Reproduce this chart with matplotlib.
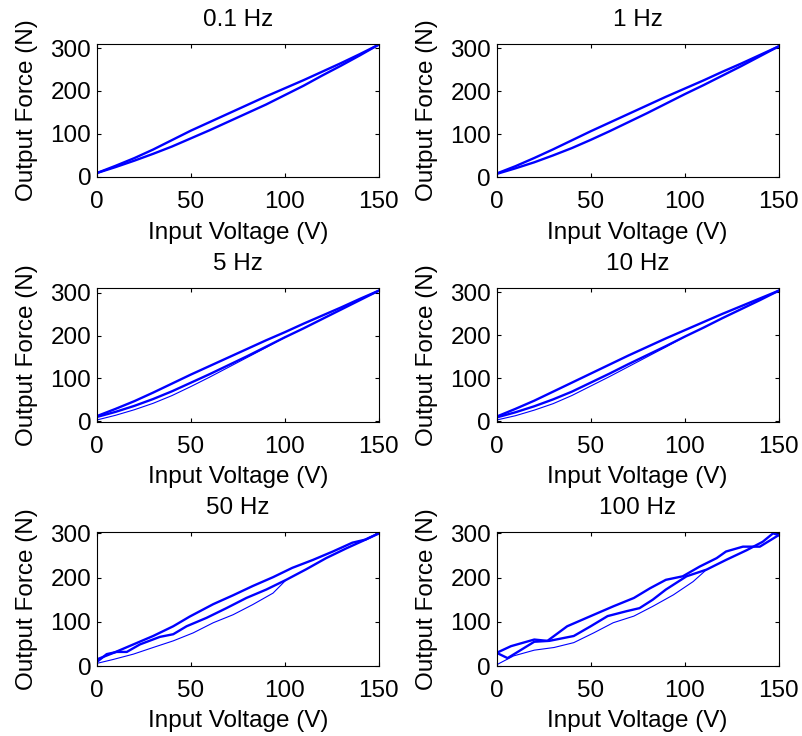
import numpy as np
import matplotlib.pyplot as plt

plt.rcParams['font.family'] = ['Liberation Sans', 'DejaVu Sans']

titles = ['0.1 Hz', '1 Hz', '5 Hz', '10 Hz', '50 Hz', '100 Hz']

# --- 0.1 Hz ---
v_01 = [0, 10, 20, 30, 40, 50, 60, 70, 80, 90, 100, 110, 120, 130, 140, 150]
up_01 = [8, 25, 43, 63, 85, 107, 127, 147, 167, 187, 206, 225, 245, 265, 286, 308]
lo_01 = [8, 22, 37, 53, 70, 89, 108, 128, 148, 168, 190, 212, 236, 259, 283, 308]

# --- 1 Hz ---
v_1 = [0, 10, 20, 30, 40, 50, 60, 70, 80, 90, 100, 110, 120, 130, 140, 150]
up_1 = [9, 26, 45, 65, 86, 107, 127, 147, 167, 187, 206, 225, 245, 264, 284, 304]
lo_1 = [8, 21, 35, 51, 68, 87, 107, 128, 149, 171, 193, 214, 236, 258, 281, 304]

# --- 5 Hz ---
v_5 = [0, 10, 20, 30, 40, 50, 60, 70, 80, 90, 100, 110, 120, 130, 140, 150]
up_5 = [12, 29, 47, 67, 88, 109, 129, 149, 169, 189, 208, 228, 247, 266, 286, 305]
lo_5 = [10, 22, 36, 52, 70, 90, 110, 131, 152, 174, 196, 217, 239, 261, 283, 305]
v_5_first = [0, 10, 20, 30, 40, 50, 60, 70, 80, 90, 100]
first_5 = [3, 14, 27, 42, 60, 81, 103, 126, 149, 172, 196]

# --- 10 Hz ---
v_10 = [0, 10, 20, 30, 40, 50, 60, 70, 80, 90, 100, 110, 120, 130, 140, 150]
up_10 = [11, 29, 48, 69, 90, 111, 132, 153, 173, 193, 212, 231, 250, 268, 286, 304]
lo_10 = [9, 21, 35, 51, 69, 90, 111, 133, 154, 175, 197, 218, 240, 261, 282, 304]
v_10_first = [0, 10, 20, 30, 40, 50, 60, 70, 80, 90, 100]
first_10 = [3, 13, 26, 41, 60, 82, 104, 127, 150, 173, 197]

# --- 50 Hz ---
v_50_up = [0, 9, 19.5, 30, 40.7, 49.5, 62, 72.5, 83, 93.8, 104, 115, 125.6, 136, 143, 150]
up_50 = [15, 30, 49, 68, 90, 112, 140, 160, 181, 201, 222, 240, 259, 279, 286, 300]
v_50_lo = [0, 5.3, 10.6, 16, 23, 33.6, 40.7, 47.8, 58.4, 69, 79.6, 90.2, 100.8, 111.5, 122, 132.7, 141.5, 150]
lo_50 = [9, 27, 32, 32, 49, 66, 72, 90, 109, 131, 154, 173, 195, 219, 244, 266, 283, 300]
v_50_first = [0, 8.8, 19.5, 30, 40.7, 51.3, 62, 72.5, 83, 93.8, 100.8]
first_50 = [6, 15, 27, 42, 57, 75, 98, 116, 139, 165, 195]

# --- 100 Hz ---
v_100_up = [0, 7.6, 20, 27, 37.5, 50, 62, 73, 81.6, 90, 99, 108, 117, 122, 131, 140, 150]
up_100 = [30, 45, 60, 57, 90, 113, 135, 154, 176, 195, 203, 225, 244, 259, 270, 270, 296]
v_100_lo = [0, 5.8, 20, 28, 41, 50, 59, 69, 76, 83, 90, 101, 111.6, 122, 133, 141.5, 147, 150]
lo_100 = [30, 18, 55, 57, 68, 90, 113, 124, 131, 150, 173, 203, 218, 240, 262, 281, 300, 296]
v_100_first = [0, 9, 20, 30.5, 41, 51.6, 62, 73, 83, 94, 104.5, 111.6]
first_100 = [3, 23, 36, 42, 53, 75, 98, 113, 135, 161, 191, 218]

panels = [
    (v_01, up_01, v_01, lo_01, None, None),
    (v_1, up_1, v_1, lo_1, None, None),
    (v_5, up_5, v_5, lo_5, v_5_first, first_5),
    (v_10, up_10, v_10, lo_10, v_10_first, first_10),
    (v_50_up, up_50, v_50_lo, lo_50, v_50_first, first_50),
    (v_100_up, up_100, v_100_lo, lo_100, v_100_first, first_100),
]
ylims = [(-2, 310), (5, 310), (-1, 311), (-1, 310), (3, 302), (4, 302)]

fig = plt.figure(figsize=(8.02, 7.36), dpi=100)
lefts = [0.1206, 0.6193]
bottoms = [0.759, 0.427, 0.095]
w, h = 0.3516, 0.1815
fs = 17.5

for i, (vu, fu, vl, fl, vf, ff) in enumerate(panels):
    ax = fig.add_axes([lefts[i % 2], bottoms[i // 2], w, h])
    if vf is not None:
        ax.plot(vf, ff, color='#0000ff', lw=0.8)
    ax.plot(vl, fl, color='#0000ff', lw=1.7)
    ax.plot(vu, fu, color='#0000ff', lw=1.7)
    ax.set_xlim(0, 150)
    ax.set_ylim(*ylims[i])
    ax.set_xticks([0, 50, 100, 150])
    ax.set_yticks([0, 100, 200, 300])
    ax.tick_params(direction='in', top=True, right=True, length=3, width=0.8,
                   labelsize=fs, colors='black')
    ax.tick_params(axis='x', pad=10)
    ax.tick_params(axis='y', pad=4)
    for s in ax.spines.values():
        s.set_linewidth(0.8)
    ax.set_title(titles[i], fontsize=fs, pad=13)
    ax.set_xlabel('Input Voltage (V)', fontsize=fs, labelpad=6)
    ax.set_ylabel('Output Force (N)', fontsize=fs, labelpad=9)

fig.savefig('out.png', dpi=100)
